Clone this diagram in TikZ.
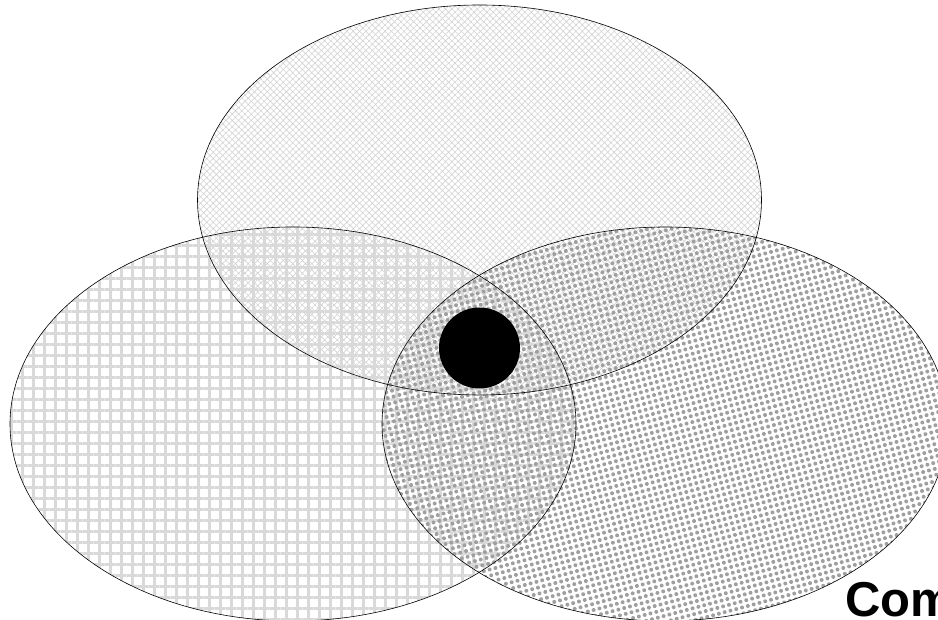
\documentclass[tikz,border=0pt]{standalone}
\usepackage{fontspec}
\setmainfont{Liberation Sans}
\usetikzlibrary{patterns,patterns.meta}
\begin{document}
\begin{tikzpicture}[x=1pt,y=1pt,
  ell/.style={draw=black,line width=0.6pt},
  topfill/.style={pattern={Hatch[angle=45,distance=4.5pt,line width=0.6pt]},pattern color=gray!35},
  leftfill/.style={pattern={Hatch[angle=0,distance=11pt,line width=3pt]},pattern color=gray!30},
  rightfill/.style={pattern={Dots[distance=6pt,radius=2pt,angle=15]},pattern color=gray!75},
  lbl/.style={font=\bfseries\fontsize{49}{55}\selectfont,anchor=base west,inner sep=0pt}]
\useasboundingbox (0,0) rectangle (938,620);
\clip (0,0) rectangle (938,620);
\path[topfill] (479.5,420) ellipse [x radius=282,y radius=195];
\path[leftfill] (293,196) ellipse [x radius=283,y radius=197];
\path[rightfill] (665,196) ellipse [x radius=283,y radius=197];
\draw[ell] (479.5,420) ellipse [x radius=282,y radius=195];
\draw[ell] (293,196) ellipse [x radius=283,y radius=197];
\draw[ell] (665,196) ellipse [x radius=283,y radius=197];
\node[circle,fill=black,minimum size=81pt,inner sep=0pt] (core) at (479.5,272) {};
\node[lbl] (com) at (845,3) {Com};
\end{tikzpicture}
\end{document}
